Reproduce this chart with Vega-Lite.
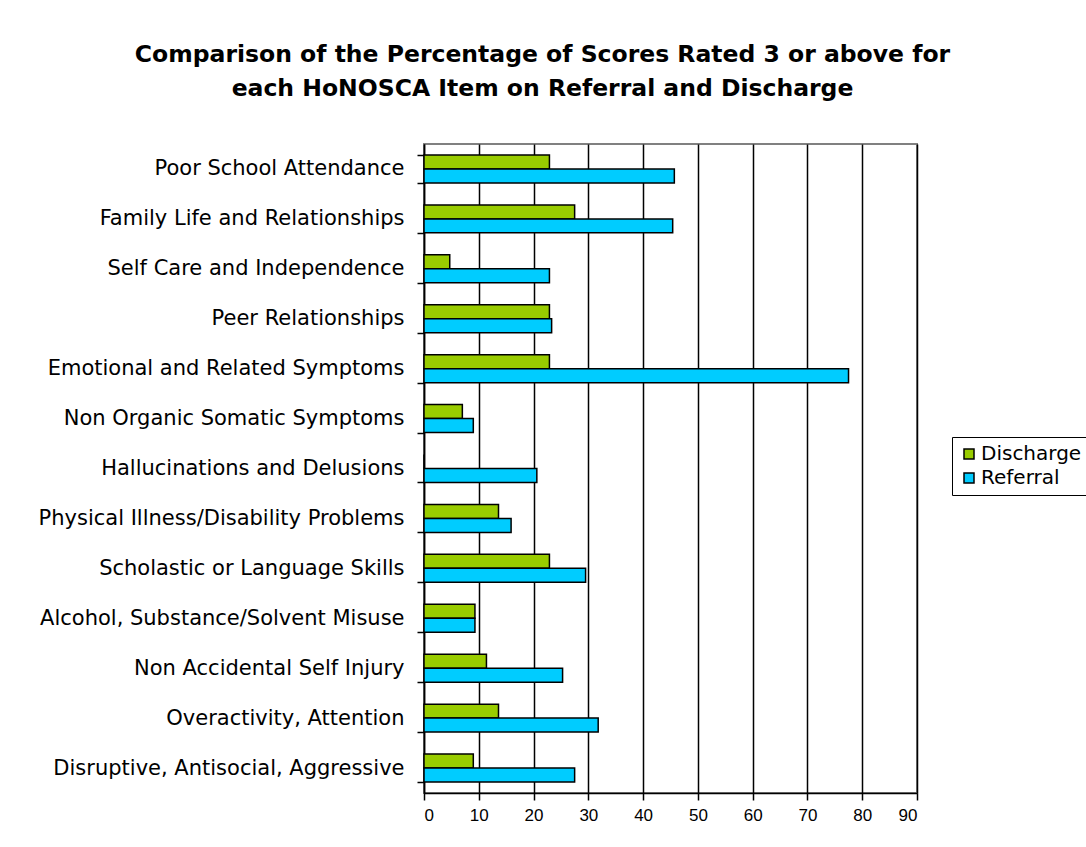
{
  "$schema": "https://vega.github.io/schema/vega-lite/v6.json",
  "autosize": {"type": "none"},
  "width": 493,
  "height": 649,
  "padding": {"left": 424, "top": 144, "right": 169, "bottom": 54},
  "background": "white",
  "title": {
    "text": ["Comparison of the Percentage of Scores Rated 3 or above for", "each HoNOSCA Item on Referral and Discharge"],
    "font": "DejaVu Sans",
    "fontSize": 23.5,
    "fontWeight": "bold",
    "color": "black",
    "anchor": "middle",
    "frame": "group",
    "dx": -128,
    "offset": 33,
    "lineHeight": 34
  },
  "data": {
    "values": [
      {"item": "Poor School Attendance", "series": "Discharge", "value": 22.9},
      {"item": "Poor School Attendance", "series": "Referral", "value": 45.7},
      {"item": "Family Life and Relationships", "series": "Discharge", "value": 27.5},
      {"item": "Family Life and Relationships", "series": "Referral", "value": 45.4},
      {"item": "Self Care and Independence", "series": "Discharge", "value": 4.7},
      {"item": "Self Care and Independence", "series": "Referral", "value": 22.9},
      {"item": "Peer Relationships", "series": "Discharge", "value": 22.9},
      {"item": "Peer Relationships", "series": "Referral", "value": 23.3},
      {"item": "Emotional and Related Symptoms", "series": "Discharge", "value": 22.9},
      {"item": "Emotional and Related Symptoms", "series": "Referral", "value": 77.5},
      {"item": "Non Organic Somatic Symptoms", "series": "Discharge", "value": 7.0},
      {"item": "Non Organic Somatic Symptoms", "series": "Referral", "value": 9.0},
      {"item": "Hallucinations and Delusions", "series": "Discharge", "value": 0},
      {"item": "Hallucinations and Delusions", "series": "Referral", "value": 20.6},
      {"item": "Physical Illness/Disability Problems", "series": "Discharge", "value": 13.6},
      {"item": "Physical Illness/Disability Problems", "series": "Referral", "value": 15.9},
      {"item": "Scholastic or Language Skills", "series": "Discharge", "value": 22.9},
      {"item": "Scholastic or Language Skills", "series": "Referral", "value": 29.5},
      {"item": "Alcohol, Substance/Solvent Misuse", "series": "Discharge", "value": 9.3},
      {"item": "Alcohol, Substance/Solvent Misuse", "series": "Referral", "value": 9.3},
      {"item": "Non Accidental Self Injury", "series": "Discharge", "value": 11.4},
      {"item": "Non Accidental Self Injury", "series": "Referral", "value": 25.3},
      {"item": "Overactivity, Attention", "series": "Discharge", "value": 13.6},
      {"item": "Overactivity, Attention", "series": "Referral", "value": 31.8},
      {"item": "Disruptive, Antisocial, Aggressive", "series": "Discharge", "value": 9.0},
      {"item": "Disruptive, Antisocial, Aggressive", "series": "Referral", "value": 27.5}
    ]
  },
  "mark": {"type": "bar", "stroke": "black", "strokeWidth": 1.5},
  "encoding": {
    "y": {
      "field": "item",
      "type": "nominal",
      "sort": null,
      "title": null,
      "scale": {"paddingInner": 0.44, "paddingOuter": 0.22},
      "axis": {
        "domainColor": "black",
        "domainWidth": 1.5,
        "tickColor": "black",
        "tickWidth": 1.5,
        "tickSize": 7,
        "tickBand": "extent",
        "labelFont": "DejaVu Sans",
        "labelFontSize": 21,
        "labelColor": "black",
        "labelPadding": 13,
        "labelLimit": 420
      }
    },
    "yOffset": {
      "field": "series",
      "type": "nominal",
      "sort": ["Discharge", "Referral"],
      "scale": {"paddingInner": 0, "paddingOuter": 0}
    },
    "x": {
      "field": "value",
      "type": "quantitative",
      "title": null,
      "scale": {"domain": [0, 90], "nice": false},
      "axis": {
        "values": [0, 10, 20, 30, 40, 50, 60, 70, 80, 90],
        "grid": true,
        "gridColor": "black",
        "gridWidth": 1.5,
        "gridOpacity": 1,
        "domainColor": "black",
        "domainWidth": 1.5,
        "tickColor": "black",
        "tickWidth": 1.5,
        "tickSize": 7,
        "labelFont": "Liberation Sans",
        "labelFontSize": 17,
        "labelColor": "black",
        "labelPadding": 7
      }
    },
    "color": {
      "field": "series",
      "type": "nominal",
      "sort": ["Discharge", "Referral"],
      "scale": {"domain": ["Discharge", "Referral"], "range": ["#99CC00", "#00CCFF"]},
      "legend": {
        "title": null,
        "orient": "none",
        "legendX": 528,
        "legendY": 293,
        "strokeColor": "black",
        "padding": 7,
        "symbolType": "square",
        "symbolSize": 100,
        "symbolStrokeColor": "black",
        "symbolStrokeWidth": 1.5,
        "symbolOpacity": 1,
        "labelFont": "DejaVu Sans",
        "labelFontSize": 20,
        "labelColor": "black",
        "labelOffset": 2,
        "rowPadding": 4
      }
    }
  },
  "config": {
    "view": {"stroke": "#808080", "strokeWidth": 2}
  }
}
